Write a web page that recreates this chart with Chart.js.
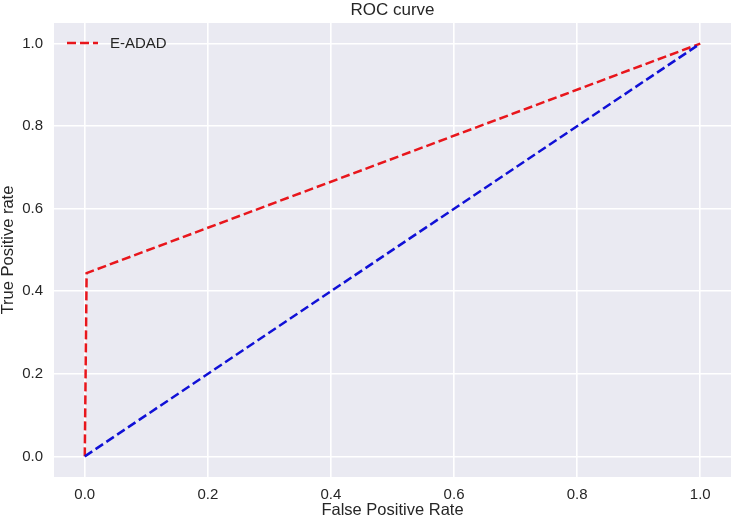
<!DOCTYPE html>
<html>
<head>
<meta charset="utf-8">
<script src="https://cdn.jsdelivr.net/npm/chart.js@4"></script>
<style>
  body { margin: 0; background: #fff; }
</style>
</head>
<body>
<canvas id="rocChart" width="731" height="521"></canvas>
<script>
// ROC points
const fprModel = [0, 0.003, 1];
const tprModel = [0, 0.444, 1];
const fprChance = [0, 1];
const tprChance = [0, 1];
const tickValues = [0, 0.2, 0.4, 0.6, 0.8, 1.0];

const modelLabel = 'E-ADAD';
const textColor = '#262626';
const fontFamily = 'Liberation Sans, Arial, sans-serif';

function toPoints(xs, ys) {
  return xs.map((x, i) => ({x: x, y: ys[i]}));
}

// seaborn-ish grey plot background
const plotBackground = {
  id: 'plotBackground',
  beforeDraw(chart) {
    const {ctx, chartArea} = chart;
    ctx.save();
    ctx.fillStyle = '#EAEAF2';
    ctx.fillRect(chartArea.left, chartArea.top, chartArea.width, chartArea.height);
    ctx.restore();
  }
};

// legend inside the plot, upper left, with a dashed sample line
const insideLegend = {
  id: 'insideLegend',
  afterDatasetsDraw(chart) {
    const {ctx, chartArea} = chart;
    const ds = chart.data.datasets[0];
    const x = chartArea.left + 13;
    const y = chartArea.top + 20;
    ctx.save();
    ctx.strokeStyle = ds.borderColor;
    ctx.lineWidth = ds.borderWidth;
    ctx.setLineDash(ds.borderDash);
    ctx.beginPath();
    ctx.moveTo(x, y);
    ctx.lineTo(x + 31, y);
    ctx.stroke();
    ctx.setLineDash([]);
    ctx.fillStyle = textColor;
    ctx.font = '15px ' + fontFamily;
    ctx.textBaseline = 'middle';
    ctx.textAlign = 'left';
    ctx.fillText(ds.label, x + 43, y + 1);
    ctx.restore();
  }
};

function fixedTicks(scale) {
  scale.ticks = tickValues.map(v => ({value: v}));
}

const ctx = document.getElementById('rocChart').getContext('2d');
const chart = new Chart(ctx, {
  type: 'line',
  data: {
    datasets: [{
      label: modelLabel,
      data: toPoints(fprModel, tprModel),
      borderColor: 'rgb(232, 22, 28)',
      borderWidth: 2.5,
      borderDash: [9, 4],
      pointRadius: 0,
      fill: false,
      tension: 0,
      order: 1
    },
    {
      label: 'chance',
      data: toPoints(fprChance, tprChance),
      borderColor: 'rgb(16, 16, 214)',
      borderWidth: 2.5,
      borderDash: [9, 4],
      pointRadius: 0,
      fill: false,
      tension: 0,
      order: 0
    }]
  },
  options: {
    responsive: false,
    animation: false,
    layout: { padding: 0 },
    plugins: {
      title: {
        display: true,
        text: 'ROC curve',
        fullSize: false,
        color: textColor,
        font: { family: fontFamily, size: 17, weight: 'normal', lineHeight: 1 },
        padding: { top: 1.5, bottom: 4.5 }
      },
      legend: { display: false },
      tooltip: { enabled: false }
    },
    scales: {
      x: {
        type: 'linear',
        min: -0.05,
        max: 1.05,
        afterBuildTicks: fixedTicks,
        afterFit(scale) { scale.height = 44; },
        border: { display: false },
        grid: { color: '#ffffff', lineWidth: 1.6, drawTicks: false },
        ticks: {
          padding: 10,
          color: textColor,
          font: { family: fontFamily, size: 15, lineHeight: 1 },
          callback: v => v.toFixed(1)
        },
        title: {
          display: true,
          text: 'False Positive Rate',
          color: textColor,
          font: { family: fontFamily, size: 16.5, lineHeight: 1 },
          padding: { top: 0, bottom: 2 }
        }
      },
      y: {
        type: 'linear',
        min: -0.05,
        max: 1.05,
        afterBuildTicks: fixedTicks,
        afterFit(scale) { scale.width = 54; },
        border: { display: false },
        grid: { color: '#ffffff', lineWidth: 1.6, drawTicks: false },
        ticks: {
          padding: 11,
          color: textColor,
          font: { family: fontFamily, size: 15, lineHeight: 1 },
          callback: v => v.toFixed(1)
        },
        title: {
          display: true,
          text: 'True Positive rate',
          color: textColor,
          font: { family: fontFamily, size: 16.5, lineHeight: 1 },
          padding: { top: 0, bottom: 0 }
        }
      }
    }
  },
  plugins: [plotBackground, insideLegend]
});
</script>
</body>
</html>
